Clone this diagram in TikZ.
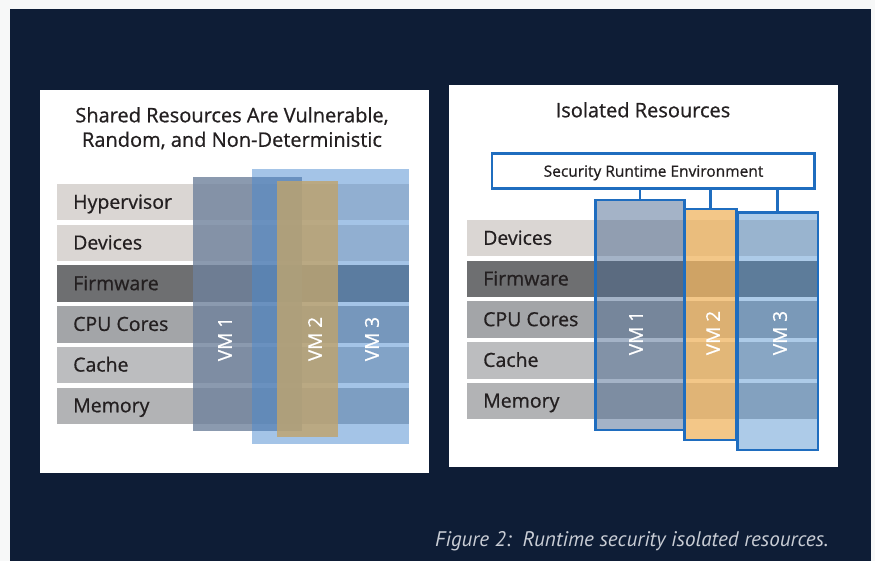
\documentclass[tikz,border=0pt]{standalone}
\usepackage{fontspec}
\setmainfont{Open Sans}
\newfontfamily\medfont[FakeBold=0.7]{Open Sans}
\newfontfamily\capfont{PT Sans}
\definecolor{outbg}{HTML}{F7F8F8}
\definecolor{darkbg}{HTML}{0E1D36}
\definecolor{txt}{HTML}{231F20}
\definecolor{rowA}{HTML}{DAD6D3}
\definecolor{rowF}{HTML}{6E6F71}
\definecolor{rowC}{HTML}{A3A5A8}
\definecolor{rowK}{HTML}{BCBDBF}
\definecolor{rowM}{HTML}{B2B3B5}
\definecolor{lvmA}{HTML}{6F819C}
\definecolor{lvmB}{HTML}{BFA46E}
\definecolor{lvmC}{HTML}{4A8AD0}
\definecolor{rvmA}{HTML}{4A6890}
\definecolor{rvmB}{HTML}{F0B561}
\definecolor{rvmC}{HTML}{4A8CCC}
\definecolor{vmline}{HTML}{1F6DBF}
\definecolor{captxt}{HTML}{C9CDD5}
\begin{document}
\begin{tikzpicture}[x=1pt,y=-1pt,
  box/.style={inner sep=0pt,outer sep=0pt,anchor=north west},
  panelbox/.style={box,fill=white},
  rowbar/.style={box,minimum height=36.5pt},
  rowtext/.style={anchor=base west,inner sep=0pt,text=txt,font=\medfont\fontsize{19.5}{21}\selectfont},
  titletext/.style={anchor=base,inner sep=0pt,text=txt,font=\medfont\fontsize{20}{22}\selectfont},
  vmtext/.style={rotate=90,inner sep=0pt,text=white,font=\medfont\fontsize{19}{21}\selectfont},
  vmframe/.style={box,draw=vmline,line width=2.8pt},
  conn/.style={draw=vmline,line width=2.8pt}
]
\useasboundingbox (0,0) rectangle (875,561);
\fill[outbg] (0,0) rectangle (875,561);
\node[box,fill=darkbg,minimum width=861pt,minimum height=552pt] (bg) at (10,9) {};
% panels
\node[panelbox,minimum width=389pt,minimum height=383pt] (lpanel) at (40,90) {};
\node[panelbox,minimum width=389pt,minimum height=382pt] (rpanel) at (449,85) {};

% ---------- left panel ----------
\node[titletext] (lt1) at (232,122.3) {Shared Resources Are Vulnerable,};
\node[titletext] (lt2) at (232,146.8) {Random, and Non-Deterministic};
\foreach \lab/\col [count=\i from 0] in {Hypervisor/rowA,Devices/rowA,Firmware/rowF,CPU Cores/rowC,Cache/rowK,Memory/rowM}{
  \node[rowbar,fill=\col,minimum width=352pt] (lrow\i) at (57,{184+\i*40.7}) {};
  \node[rowtext] (lrowt\i) at (73,{184+\i*40.7+24.8}) {\lab};
}
\node[box,fill=lvmA,fill opacity=0.8,minimum width=108.4pt,minimum height=253.7pt] (lvm1) at (193.3,177.3) {};
\node[box,fill=lvmC,fill opacity=0.5,minimum width=157pt,minimum height=274.7pt] (lvm3) at (252.3,169.3) {};
\node[box,fill=lvmB,fill opacity=0.82,minimum width=61pt,minimum height=255.4pt] (lvm2) at (276.7,181.3) {};
\node[vmtext] (lvm1t) at (225,339) {VM 1};
\node[vmtext] (lvm2t) at (315,339) {VM 2};
\node[vmtext] (lvm3t) at (372,339) {VM 3};

% ---------- right panel ----------
\node[titletext] (rt) at (643,117.3) {Isolated Resources};
\node[box,draw=vmline,line width=2.8pt,fill=white,minimum width=322.7pt,minimum height=35pt] (sre) at (492,153.3) {};
\node[anchor=base,inner sep=0pt,text=txt,font=\medfont\fontsize{15.5}{18}\selectfont] (sret) at (653.5,176.7) {Security Runtime Environment};
\foreach \lab/\col [count=\i from 0] in {Devices/rowA,Firmware/rowF,CPU Cores/rowC,Cache/rowK,Memory/rowM}{
  \node[rowbar,fill=\col,minimum width=351pt] (rrow\i) at (467,{220+\i*40.7}) {};
  \node[rowtext] (rrowt\i) at (483,{220+\i*40.7+24.8}) {\lab};
}
\node[box,fill=rvmA,fill opacity=0.5,minimum width=89.4pt,minimum height=230pt] (rvm1f) at (595.3,200) {};
\node[box,fill=rvmB,fill opacity=0.75,minimum width=51.6pt,minimum height=231pt] (rvm2f) at (684.7,209) {};
\node[box,fill=rvmC,fill opacity=0.45,minimum width=80.7pt,minimum height=237.7pt] (rvm3f) at (737.3,212.3) {};
\node[vmframe,minimum width=89.4pt,minimum height=230pt] (rvm1) at (595.3,200) {};
\node[vmframe,minimum width=51.6pt,minimum height=231pt] (rvm2) at (684.7,209) {};
\node[vmframe,minimum width=80.7pt,minimum height=237.7pt] (rvm3) at (737.3,212.3) {};
\draw[conn] (rvm1.north) -- (rvm1.north |- sre.south);
\draw[conn] (rvm2.north) -- (rvm2.north |- sre.south);
\draw[conn] (rvm3.north) -- (rvm3.north |- sre.south);
\node[vmtext] (rvm1t) at (636,333) {VM 1};
\node[vmtext] (rvm2t) at (713,333) {VM 2};
\node[vmtext] (rvm3t) at (780,333) {VM 3};

% caption
\node[anchor=base west,inner sep=0pt,text=captxt,font=\capfont\itshape\fontsize{21.1}{23}\selectfont] (cap) at (435,546) {Figure 2:\ \ Runtime security isolated resources.};
\end{tikzpicture}
\end{document}
